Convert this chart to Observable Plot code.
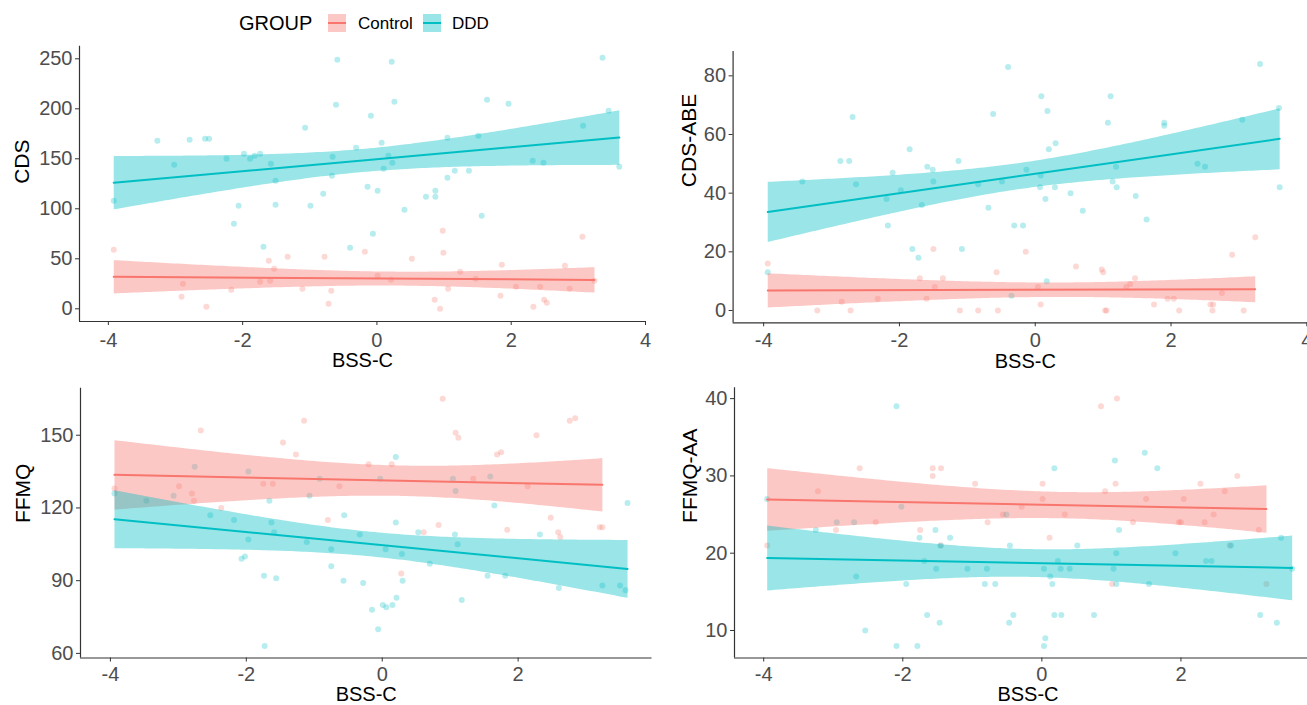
<!DOCTYPE html>
<html><head><meta charset="utf-8">
<script src="https://cdn.jsdelivr.net/npm/d3@7"></script>
<script src="https://cdn.jsdelivr.net/npm/@observablehq/plot@0.6"></script>
<style>
body{margin:0;background:#fff;font-family:"Liberation Sans",Arial,sans-serif;overflow:hidden}
#wrap{position:relative;width:1307px;height:705px;overflow:hidden;background:#fff}
.panel{position:absolute}
.lg{position:absolute;white-space:nowrap;line-height:1}
.key{position:absolute;width:18px;height:18px}
.key i{position:absolute;left:0;right:0;top:8px;height:2px}
</style></head><body><div id="wrap"></div>
<script>
const groups = ["Control", "DDD"];
const colors = ["#F8766D", "#00BFC4"];
const xLabel = "BSS-C";

// Panel 1: CDS
const cdsCtrlX = [-3.92,-2.89,-2.91,-2.54,-2.17,-1.74,-1.61,-1.59,-1.53,-1.33,-1.11,-0.78,-0.72,-0.68,-0.18,0.01,0.21,0.52,0.86,0.94,0.98,0.99,1.06,1.24,1.47,1.84,1.86,2.07,2.33,2.43,2.49,2.53,2.80,2.87,3.06,3.24];
const cdsCtrlY = [59,25,12,2,19,27,48,28,40,52,20,52,5,18,57,33,29,50,9,0,78,56,20,37,30,13,44,22,2,22,9,6,43,20,72,28];
const cdsDddX = [-3.92,-3.27,-3.02,-2.79,-2.56,-2.50,-2.24,-2.13,-2.06,-1.98,-1.89,-1.82,-1.74,-1.69,-1.58,-1.51,-1.51,-1.07,-0.99,-0.80,-0.67,-0.66,-0.61,-0.59,-0.40,-0.31,-0.14,-0.09,-0.06,0.01,0.07,0.10,0.17,0.22,0.23,0.26,0.41,0.73,0.87,0.87,1.05,1.05,1.16,1.37,1.51,1.56,1.64,1.96,2.32,2.48,3.07,3.36,3.45,3.61];
const cdsDddY = [108,168,144,169,170,170,150,85,103,155,150,153,155,62,145,128,104,181,103,115,133,152,204,249,61,161,122,193,75,118,166,140,153,247,146,207,99,112,112,118,131,171,138,138,173,93,209,205,148,146,183,251,198,142];

// Panel 2: CDS-ABE
const abeCtrlX = [-3.94,-3.21,-2.85,-2.72,-2.32,-1.70,-1.60,-1.50,-1.48,-1.36,-1.11,-0.84,-0.57,-0.55,-0.14,0.04,0.08,0.60,0.98,1.00,1.03,1.05,1.34,1.40,1.47,1.75,1.95,2.04,2.12,2.58,2.61,2.62,2.75,2.90,3.07,3.24];
const abeCtrlY = [16,0,3,0,4,11,4,21,8,11,0,0,13,0,20,8,2,15,14,13,0,0,8,9,11,2,4,4,0,2,0,2,6,19,0,25];
const abeDddX = [-3.94,-3.43,-2.87,-2.74,-2.69,-2.64,-2.19,-2.17,-2.10,-1.98,-1.85,-1.81,-1.72,-1.67,-1.59,-1.51,-1.50,-1.13,-1.08,-0.84,-0.69,-0.62,-0.49,-0.40,-0.35,-0.31,-0.18,-0.13,0.07,0.08,0.09,0.15,0.17,0.18,0.20,0.29,0.30,0.52,0.70,1.07,1.11,1.14,1.19,1.20,1.48,1.64,1.90,1.90,2.39,2.50,3.05,3.31,3.59,3.60];
const abeDddY = [13,44,51,51,66,43,38,29,47,41,55,21,18,36,49,48,44,51,21,43,35,67,44,83,5,29,29,48,42,46,73,38,10,68,55,42,57,40,34,64,73,44,49,42,39,31,63,64,50,49,65,84,69,42];

// Panel 3: FFMQ
const ffCtrlX = [-3.94,-2.99,-2.80,-2.77,-2.67,-2.37,-1.75,-1.61,-1.46,-1.27,-1.15,-0.80,-0.63,-0.20,0.14,0.28,0.61,0.83,0.89,1.08,1.12,1.34,1.69,1.75,1.84,2.14,2.27,2.48,2.59,2.62,2.76,2.84,3.20,3.24];
const ffCtrlY = [128,129,126,123,152,120,130,130,147,142,156,115,129,138,138,93,110,113,165,151,149,132,142,143,111,129,150,116,110,108,156,157,112,112];
const ffDddX = [-3.94,-3.47,-2.53,-2.18,-2.07,-2.02,-1.97,-1.74,-1.63,-1.59,-1.56,-1.73,-1.11,-0.75,-0.75,-0.56,-0.57,-0.33,-0.28,-0.15,-0.06,0.01,0.05,0.06,0.15,0.20,0.20,0.21,0.29,0.30,0.53,0.70,1.07,1.11,1.17,1.55,1.65,1.81,2.32,2.60,3.24,3.50,3.58,3.61,
  -3.07,-2.76,-1.97,-1.66,-1.07,-0.92,-0.03,1.04,1.08,1.59];
const ffDddY = [126,123,117,115,99,100,107,92,114,110,91,63,106,103,96,117,90,109,89,78,70,80,103,79,80,114,141,83,101,90,110,97,109,105,82,92,121,92,109,87,88,88,86,122,
  125,137,135,123,125,132,132,132,127,133];

// Panel 4: FFMQ-AA
const aaCtrlX = [-3.95,-3.22,-2.96,-2.62,-2.39,-1.75,-1.57,-1.57,-1.45,-1.45,-0.96,-0.78,-0.56,-0.29,0.01,0.01,0.11,0.33,0.85,0.91,1.01,1.06,1.08,1.31,1.50,1.97,2.00,2.04,2.28,2.34,2.47,2.63,2.70,2.81,3.12,3.23];
const aaCtrlY = [21,28,23,31,24,23,30,31,31,21,29,24,25,26,29,27,22,25,39,28,16,29,40,24,27,24,24,27,29,24,25,28,21,30,23,16];
const aaDddX = [-3.95,-3.25,-2.95,-2.70,-2.67,-2.54,-2.09,-2.09,-1.95,-1.79,-1.76,-1.69,-1.65,-1.53,-1.52,-1.47,-1.46,-1.32,-1.07,-0.82,-0.79,-0.67,-0.47,-0.46,-0.41,0.03,0.03,0.05,0.12,0.15,0.18,0.18,0.23,0.27,0.28,0.40,0.51,0.75,1.03,1.05,1.07,1.07,1.11,1.48,1.54,1.66,1.92,2.36,2.44,2.72,3.14,3.38,3.44,3.60,
  -2.02,-0.51];
const aaDddY = [27,23,24,24,17,10,39,8,16,8,22,19,12,23,18,11,21,22,18,16,18,16,11,21,12,18,8,9,17,16,12,31,19,18,12,18,21,12,18,32,20,16,23,33,16,31,20,19,19,21,12,11,22,18,
  26,25];

const xTicksTop = [-4,-2,0,2,4];
const xTicksBottom = [-4,-2,0,2];
const yTicksCds = [0,50,100,150,200,250];
const yTicksAbe = [0,20,40,60,80];
const yTicksFf = [60,90,120,150];
const yTicksAa = [10,20,30,40];

const wrap = document.getElementById("wrap");
const fmt = d => String(d);

function panel(p) {
  const data = [
    ...p.cx.map((x, i) => ({x, y: p.cy[i], g: "Control"})),
    ...p.dx.map((x, i) => ({x, y: p.dy[i], g: "DDD"}))
  ];
  const chart = Plot.plot({
    width: p.width, height: p.height,
    marginLeft: p.mL, marginRight: p.mR, marginTop: p.mT, marginBottom: p.mB,
    style: {fontFamily: '"Liberation Sans", Arial, sans-serif', background: "transparent", overflow: "visible"},
    x: {domain: p.xDomain, axis: null},
    y: {domain: p.yDomain, axis: null},
    color: {domain: groups, range: colors},
    marks: [
      Plot.dot(data, {x: "x", y: "y", fill: "g", r: 3, fillOpacity: 0.28}),
      Plot.linearRegressionY(data, {x: "x", y: "y", stroke: "g", fill: "g", fillOpacity: 0.4, strokeWidth: 2}),
      Plot.ruleY([p.yDomain[0]], {stroke: "#333", strokeWidth: 1.2}),
      Plot.ruleX([p.xDomain[0]], {stroke: "#333", strokeWidth: 1.2}),
      Plot.axisX({ticks: p.xTicks, tickFormat: fmt, tickSize: 4, tickPadding: p.xPad, fontSize: 20, stroke: "#333", fill: "#4d4d4d", label: null}),
      Plot.axisY({ticks: p.yTicks, tickFormat: fmt, tickSize: 4, tickPadding: 3, fontSize: 20, stroke: "#333", fill: "#4d4d4d", label: null}),
      Plot.text([xLabel], {frameAnchor: "bottom", dy: p.xLabDy, dx: p.xLabDx, fontSize: 20, fill: "#000", lineAnchor: "middle"}),
      Plot.text([p.yLabel], {frameAnchor: "left", dx: p.yLabDx, rotate: -90, fontSize: 21, fill: "#000", lineAnchor: "middle"})
    ]
  });
  chart.classList.add("panel");
  chart.style.left = p.left + "px";
  chart.style.top = p.top + "px";
  wrap.appendChild(chart);
}

panel({cx: cdsCtrlX, cy: cdsCtrlY, dx: cdsDddX, dy: cdsDddY, yLabel: "CDS",
  xDomain: [-4.43, 4.0], yDomain: [-12.7, 262.6], xTicks: xTicksTop, yTicks: yTicksCds,
  left: 0, top: 30, width: 655, height: 352, mL: 79, mR: 10, mT: 15.7, mB: 61,
  xPad: 7, xLabDy: 39.5, xLabDx: 0, yLabDx: -57});
panel({cx: abeCtrlX, cy: abeCtrlY, dx: abeDddX, dy: abeDddY, yLabel: "CDS-ABE",
  xDomain: [-4.45, 4.01], yDomain: [-4.2, 88.3], xTicks: xTicksTop, yTicks: yTicksAbe,
  left: 655, top: 30, width: 652, height: 352, mL: 77.6, mR: 0, mT: 21, mB: 59.7,
  xPad: 6, xLabDy: 39, xLabDx: 5, yLabDx: -44});
panel({cx: ffCtrlX, cy: ffCtrlY, dx: ffDddX, dy: ffDddY, yLabel: "FFMQ",
  xDomain: [-4.44, 3.97], yDomain: [58.1, 169.4], xTicks: xTicksBottom, yTicks: yTicksFf,
  left: 0, top: 375, width: 655, height: 330, mL: 80, mR: 3.5, mT: 12.7, mB: 47.5,
  xPad: 4.5, xLabDy: 37, xLabDx: 0, yLabDx: -57});
panel({cx: aaCtrlX, cy: aaCtrlY, dx: aaDddX, dy: aaDddY, yLabel: "FFMQ-AA",
  xDomain: [-4.42, 3.82], yDomain: [6.44, 41.4], xTicks: xTicksBottom, yTicks: yTicksAa,
  left: 655, top: 375, width: 652, height: 330, mL: 79, mR: 0, mT: 12.3, mB: 47.5,
  xPad: 4.5, xLabDy: 37, xLabDx: 7, yLabDx: -44});

// Legend
function add(html, style) {
  const d = document.createElement("div");
  d.className = "lg"; d.innerHTML = html; Object.assign(d.style, style); wrap.appendChild(d);
  return d;
}
add("GROUP", {left: "239px", top: "13px", fontSize: "20px", color: "#000"});
const keyX = [328, 423];
const labX = [358, 452];
groups.forEach((g, i) => {
  const k = document.createElement("div");
  k.className = "key";
  k.style.left = keyX[i] + "px"; k.style.top = "14px";
  k.style.background = d3.color(colors[i]).copy({opacity: 0.4}).formatRgb();
  k.innerHTML = `<i style="background:${colors[i]}"></i>`;
  wrap.appendChild(k);
  add(g, {left: labX[i] + "px", top: "15px", fontSize: "17px", color: "#000"});
});
</script></body></html>
